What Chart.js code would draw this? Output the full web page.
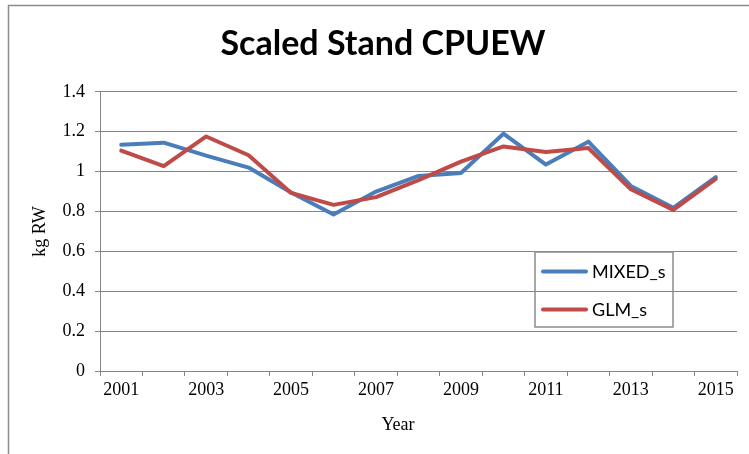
<!DOCTYPE html>
<html>
<head>
<meta charset="utf-8">
<title>Scaled Stand CPUEW</title>
<script src="https://cdn.jsdelivr.net/npm/chart.js@4"></script>
<style>
    html, body { margin: 0; padding: 0; background: #fff; }
    #wrap { width: 749px; height: 454px; position: relative; }
</style>
</head>
<body>
<div id="wrap"><canvas id="cpuew"></canvas></div>
<script>
// Chart data
const years = ['2001', '2002', '2003', '2004', '2005', '2006', '2007', '2008',
               '2009', '2010', '2011', '2012', '2013', '2014', '2015'];
const mixedS = [1.135, 1.145, 1.08, 1.02, 0.895, 0.785, 0.90, 0.978,
                0.993, 1.19, 1.035, 1.15, 0.928, 0.818, 0.972];
const glmS = [1.105, 1.027, 1.176, 1.082, 0.893, 0.833, 0.872, 0.957,
              1.05, 1.126, 1.098, 1.118, 0.911, 0.808, 0.963];
const yTicks = [0, 0.2, 0.4, 0.6, 0.8, 1, 1.2, 1.4];

const AXIS_GREY = '#868686';
const SERIF = "'Liberation Serif', 'Times New Roman', serif";
const SANS = "Lato, 'Open Sans', sans-serif";

/**
 * Grey frame around the whole chart (the right/bottom edges are cut off in the original)
 */
const framePlugin = {
    id: 'frame',
    beforeDraw(chart) {
        const ctx = chart.ctx;
        ctx.save();
        ctx.strokeStyle = '#8c8c8c';
        ctx.lineWidth = 1.5;
        ctx.strokeRect(8.5, 5.5, chart.width + 20, chart.height + 20);
        ctx.restore();
    },
};

/**
 * X axis title, placed where the original has it (left of plot centre)
 */
const xTitlePlugin = {
    id: 'xTitle',
    afterDraw(chart) {
        const ctx = chart.ctx;
        ctx.save();
        ctx.fillStyle = '#000';
        ctx.font = `18px ${SERIF}`;
        ctx.textAlign = 'center';
        ctx.textBaseline = 'middle';
        ctx.fillText('Year', 398, 425);
        ctx.restore();
    },
};

/**
 * Boxed legend sitting inside the plot area
 */
const boxLegendPlugin = {
    id: 'boxLegend',
    afterDraw(chart) {
        const ctx = chart.ctx;
        const box = { x: 535, y: 252, w: 138, h: 75 };
        const rowH = 38;

        ctx.save();
        ctx.strokeStyle = '#8c8c8c';
        ctx.lineWidth = 1.5;
        ctx.strokeRect(box.x, box.y, box.w, box.h);

        ctx.font = `18px ${SANS}`;
        ctx.textBaseline = 'middle';
        ctx.textAlign = 'left';
        chart.data.datasets.forEach((ds, i) => {
            const cy = box.y + 19.5 + i * rowH;
            ctx.strokeStyle = ds.borderColor;
            ctx.lineWidth = 4;
            ctx.lineCap = 'round';
            ctx.beginPath();
            ctx.moveTo(box.x + 8, cy);
            ctx.lineTo(box.x + 51, cy);
            ctx.stroke();
            ctx.fillStyle = '#000';
            ctx.fillText(ds.label, box.x + 57, cy + 1);
        });
        ctx.restore();
    },
};

const ctx = document.getElementById('cpuew').getContext('2d');

new Chart(ctx, {
    type: 'line',
    data: {
        labels: years,
        datasets: [
            {
                label: 'MIXED_s',
                data: mixedS,
                borderColor: '#4A7EBB',
                order: 2,
            },
            {
                label: 'GLM_s',
                data: glmS,
                borderColor: '#BE4B48',
                order: 1,
            },
        ],
    },
    options: {
        responsive: true,
        maintainAspectRatio: false,
        animation: false,
        layout: {
            padding: { left: 29, right: 12, top: 0, bottom: 0 },
        },
        elements: {
            line: {
                borderWidth: 4,
                tension: 0,
                borderJoinStyle: 'round',
                borderCapStyle: 'round',
                fill: false,
            },
            point: { radius: 0, hoverRadius: 0 },
        },
        plugins: {
            legend: { display: false },
            tooltip: { enabled: false },
            title: {
                display: true,
                text: 'Scaled Stand CPUEW',
                color: '#000',
                font: { family: SANS, size: 34, weight: 'bold', lineHeight: 1.2 },
                padding: { top: 24, bottom: 27 },
            },
        },
        scales: {
            x: {
                type: 'category',
                offset: true,
                grid: {
                    offset: true,
                    drawOnChartArea: false,
                    drawTicks: true,
                    tickLength: 5,
                    color: AXIS_GREY,
                },
                border: { display: true, color: AXIS_GREY, width: 1 },
                ticks: {
                    autoSkip: false,
                    maxRotation: 0,
                    color: '#000',
                    padding: 3,
                    font: { family: SERIF, size: 18 },
                    // every other year labelled, but keep all tick marks
                    callback: (val, i) => (i % 2 === 0 ? years[i] : ''),
                },
                afterFit: (scale) => { scale.height = 83; },
            },
            y: {
                min: 0,
                max: 1.4,
                afterBuildTicks: (scale) => {
                    scale.ticks = yTicks.map((v) => ({ value: v }));
                },
                grid: {
                    color: AXIS_GREY,
                    lineWidth: 1,
                    drawTicks: true,
                    tickLength: 5,
                },
                border: { display: true, color: AXIS_GREY, width: 1 },
                ticks: {
                    color: '#000',
                    padding: 10,
                    font: { family: SERIF, size: 18 },
                    callback: (val) => String(val),
                },
                title: {
                    display: true,
                    text: 'kg RW',
                    color: '#000',
                    font: { family: SERIF, size: 18 },
                    padding: { top: 0, bottom: 0 },
                },
                afterFit: (scale) => { scale.width = 71; },
            },
        },
    },
    plugins: [framePlugin, xTitlePlugin, boxLegendPlugin],
});
</script>
</body>
</html>
